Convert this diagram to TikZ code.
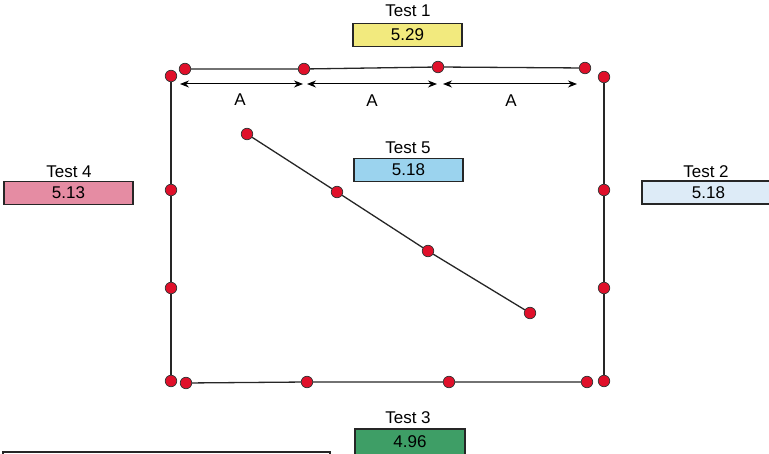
\documentclass[tikz,border=0pt]{standalone}
\usepackage{fontspec}
\setmainfont{Liberation Sans}
\usetikzlibrary{arrows.meta}
\definecolor{dotred}{HTML}{E0102A}
\definecolor{yel}{HTML}{F2EA7E}
\definecolor{pinkc}{HTML}{E58CA3}
\definecolor{paleblue}{HTML}{DDEBF7}
\definecolor{skyblue}{HTML}{9BD3EE}
\definecolor{greenc}{HTML}{3E9E66}
\begin{document}
\begin{tikzpicture}[x=1pt,y=-1pt,
 dot/.style={circle,draw=black!80,line width=0.7pt,fill=dotred,inner sep=0pt,minimum size=11.5pt},
 valbox/.style={draw=black!85,line width=1.1pt,minimum width=109pt,minimum height=23pt,inner sep=0pt,font=\fontsize{17}{17}\selectfont},
 lbl/.style={font=\fontsize{17}{17}\selectfont,inner sep=0pt},
 wire/.style={draw=black!85,line width=1.3pt},
 dim/.style={black,line width=1pt,{Stealth[length=9pt,width=7pt]}-{Stealth[length=9pt,width=7pt]}}
]
\useasboundingbox (0,0) rectangle (769,454);
\clip (0,0) rectangle (769,454);

% labels and value boxes
\node[lbl] (l1) at (408,11) {Test 1};
\node[valbox,fill=yel] (v1) at (407.5,35) {5.29};
\node[lbl] (l4) at (69,172) {Test 4};
\node[valbox,fill=pinkc,minimum width=129pt] (v4) at (68.5,193) {5.13};
\node[lbl] (l2) at (706,172) {Test 2};
\node[valbox,fill=paleblue,minimum width=133pt] (v2) at (708.5,192.5) {5.18};
\node[lbl] (l5) at (408,148) {Test 5};
\node[valbox,fill=skyblue] (v5) at (408.5,170) {5.18};
\node[lbl] (l3) at (408,418) {Test 3};
\node[valbox,fill=greenc,minimum width=110pt,minimum height=26pt] (v3) at (410,442) {4.96};
\node[draw=black!85,line width=1.1pt,minimum width=327pt,minimum height=20pt,inner sep=0pt] (bl) at (166.5,462) {};

% dots
\node[dot] (t1) at (185,69) {};
\node[dot] (t2) at (304,69) {};
\node[dot] (t3) at (438,67) {};
\node[dot] (t4) at (585,68) {};
\node[dot] (a1) at (171,76) {};
\node[dot] (a2) at (171,190) {};
\node[dot] (a3) at (171,288) {};
\node[dot] (a4) at (171,381) {};
\node[dot] (b1) at (604,77) {};
\node[dot] (b2) at (604,190) {};
\node[dot] (b3) at (604,288) {};
\node[dot] (b4) at (604,381) {};
\node[dot] (c1) at (186,383) {};
\node[dot] (c2) at (307,382) {};
\node[dot] (c3) at (449,382) {};
\node[dot] (c4) at (587,382) {};
\node[dot] (d1) at (247,134) {};
\node[dot] (d2) at (337,192) {};
\node[dot] (d3) at (428,251) {};
\node[dot] (d4) at (530,313) {};

% lines
\draw[wire] (t1) -- (t2) -- (t3) -- (t4);
\draw[wire] (a1) -- (a2) -- (a3) -- (a4);
\draw[wire] (b1) -- (b2) -- (b3) -- (b4);
\draw[wire] (c1) -- (c2) -- (c3) -- (c4);
\draw[wire] (d1) -- (d2) -- (d3) -- (d4);

% dimensions
\coordinate (p1) at (180,84);
\coordinate (p2) at (303,84);
\coordinate (p3) at (307,84);
\coordinate (p4) at (437,84);
\coordinate (p5) at (443,84);
\coordinate (p6) at (577,84);
\draw[dim] (p1) -- (p2);
\draw[dim] (p3) -- (p4);
\draw[dim] (p5) -- (p6);
\node[lbl] (A1) at (240,100) {A};
\node[lbl] (A2) at (372,101) {A};
\node[lbl] (A3) at (511,101) {A};
\end{tikzpicture}
\end{document}
